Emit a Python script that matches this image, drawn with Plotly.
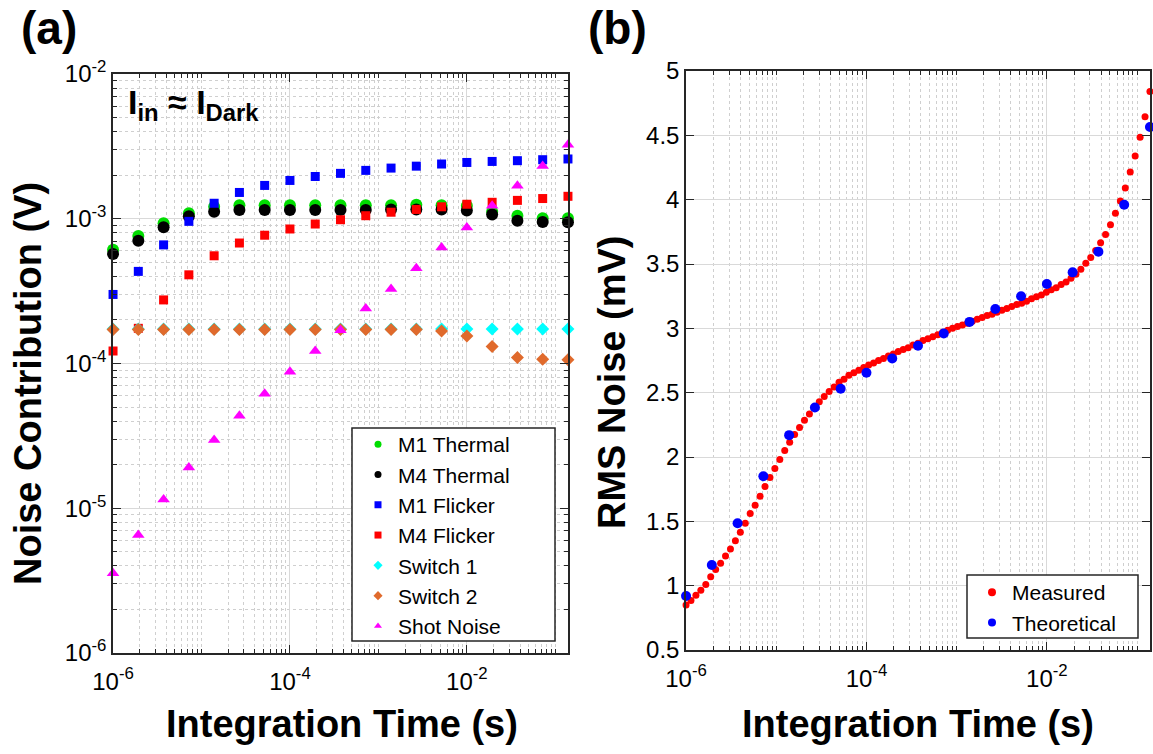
import numpy as np
import plotly.graph_objects as go

# ---------------- Panel (a): noise contributions vs integration time ----------------
t_int = [1.000e-6, 1.931e-6, 3.728e-6, 7.197e-6, 1.390e-5, 2.683e-5, 5.179e-5,
         1.000e-4, 1.931e-4, 3.728e-4, 7.197e-4, 1.390e-3, 2.683e-3, 5.179e-3,
         1.000e-2, 1.931e-2, 3.728e-2, 7.197e-2, 1.390e-1]

m1_thermal = [6.1e-4, 7.6e-4, 9.3e-4, 1.09e-3, 1.21e-3, 1.24e-3, 1.24e-3, 1.24e-3,
              1.24e-3, 1.24e-3, 1.24e-3, 1.24e-3, 1.25e-3, 1.24e-3, 1.23e-3, 1.12e-3,
              1.05e-3, 1.01e-3, 1.01e-3]
m4_thermal = [5.7e-4, 7.05e-4, 8.75e-4, 1.04e-3, 1.12e-3, 1.15e-3, 1.15e-3, 1.15e-3,
              1.15e-3, 1.15e-3, 1.15e-3, 1.16e-3, 1.16e-3, 1.16e-3, 1.14e-3, 1.07e-3,
              9.7e-4, 9.5e-4, 9.45e-4]
m1_flicker = [3.0e-4, 4.33e-4, 6.6e-4, 9.6e-4, 1.28e-3, 1.52e-3, 1.70e-3, 1.84e-3,
              1.96e-3, 2.06e-3, 2.16e-3, 2.24e-3, 2.31e-3, 2.39e-3, 2.45e-3, 2.49e-3,
              2.52e-3, 2.56e-3, 2.59e-3]
m4_flicker = [1.22e-4, 1.75e-4, 2.75e-4, 4.1e-4, 5.55e-4, 6.8e-4, 7.7e-4, 8.5e-4,
              9.2e-4, 9.85e-4, 1.05e-3, 1.11e-3, 1.16e-3, 1.21e-3, 1.26e-3, 1.30e-3,
              1.34e-3, 1.38e-3, 1.43e-3]
switch1 = [1.73e-4, 1.73e-4, 1.73e-4, 1.73e-4, 1.73e-4, 1.73e-4, 1.73e-4, 1.73e-4,
           1.73e-4, 1.73e-4, 1.73e-4, 1.73e-4, 1.73e-4, 1.73e-4, 1.73e-4, 1.73e-4,
           1.73e-4, 1.73e-4, 1.73e-4]
switch2 = [1.72e-4, 1.72e-4, 1.72e-4, 1.72e-4, 1.72e-4, 1.72e-4, 1.72e-4, 1.72e-4,
           1.72e-4, 1.72e-4, 1.72e-4, 1.72e-4, 1.72e-4, 1.68e-4, 1.55e-4, 1.31e-4,
           1.10e-4, 1.07e-4, 1.06e-4]
shot_noise = [3.56e-6, 6.53e-6, 1.15e-5, 1.91e-5, 2.96e-5, 4.36e-5, 6.19e-5, 8.78e-5,
              1.22e-4, 1.70e-4, 2.40e-4, 3.27e-4, 4.56e-4, 6.34e-4, 8.70e-4, 1.23e-3,
              1.69e-3, 2.32e-3, 3.25e-3]

# ---------------- Panel (b): total RMS noise ----------------
measured_mv = [0.85, 0.885, 0.925, 0.965, 1.01, 1.07, 1.125, 1.175, 1.23, 1.285,
               1.35, 1.415, 1.485, 1.56, 1.625, 1.695, 1.77, 1.84, 1.91, 1.98,
               2.05, 2.115, 2.175, 2.23, 2.285, 2.335, 2.385, 2.43, 2.47, 2.51,
               2.545, 2.58, 2.605, 2.635, 2.655, 2.675, 2.695, 2.715, 2.73, 2.75,
               2.765, 2.785, 2.80, 2.82, 2.835, 2.85, 2.87, 2.885, 2.905, 2.92,
               2.935, 2.95, 2.97, 2.985, 3.0, 3.015, 3.025, 3.04, 3.055, 3.07,
               3.085, 3.10, 3.11, 3.125, 3.14, 3.155, 3.17, 3.185, 3.195, 3.21,
               3.23, 3.245, 3.26, 3.28, 3.30, 3.315, 3.34, 3.36, 3.39, 3.42,
               3.46, 3.505, 3.55, 3.605, 3.665, 3.73, 3.805, 3.895, 3.99, 4.09,
               4.215, 4.34, 4.485, 4.645, 4.84]
theoretical_mv = [0.92, 1.16, 1.485, 1.85, 2.17, 2.385, 2.53, 2.655, 2.765, 2.865,
                  2.96, 3.05, 3.15, 3.25, 3.345, 3.435, 3.595, 3.96, 4.565]

# measurement sweep: log-spaced integration times over the same span
t_sweep = np.geomspace(t_int[0], t_int[-1], len(measured_mv))

x_tick_vals = [1e-6, 1e-4, 1e-2]
x_tick_text = ["10<sup>-6</sup>", "10<sup>-4</sup>", "10<sup>-2</sup>"]
y_tick_vals_a = [1e-6, 1e-5, 1e-4, 1e-3, 1e-2]
y_tick_text_a = ["10<sup>-6</sup>", "10<sup>-5</sup>", "10<sup>-4</sup>",
                 "10<sup>-3</sup>", "10<sup>-2</sup>"]
y_tick_vals_b = [0.5, 1, 1.5, 2, 2.5, 3, 3.5, 4, 4.5, 5]
y_tick_text_b = ["0.5", "1", "1.5", "2", "2.5", "3", "3.5", "4", "4.5", "5"]

FONT = "Liberation Sans, Arial, Helvetica, sans-serif"
AX_COLOR = "#262626"
GRID_MAJOR = "#d9d9d9"
GRID_MINOR = "#cfcfcf"
W, H = 1153, 754

fig = go.Figure()

series_a = [
    ("M1 Thermal", m1_thermal, "circle", "#00dd00", 12),
    ("M4 Thermal", m4_thermal, "circle", "#000000", 12),
    ("M1 Flicker", m1_flicker, "square", "#0000ff", 9),
    ("M4 Flicker", m4_flicker, "square", "#ff0000", 9),
    ("Switch 1", switch1, "diamond", "#00ffff", 10),
    ("Switch 2", switch2, "diamond", "#e06a2c", 10),
    ("Shot Noise", shot_noise, "triangle-up", "#ff00ff", 11),
]
for name, vals, sym, col, size in series_a:
    fig.add_trace(go.Scatter(
        x=t_int, y=vals, mode="markers", name=name, showlegend=False,
        marker=dict(symbol=sym, color=col, size=size, line=dict(width=0)),
        xaxis="x", yaxis="y", cliponaxis=False))
for name, vals, sym, col, size in series_a:
    fig.add_trace(go.Scatter(
        x=[None], y=[None], mode="markers", name=name, legend="legend",
        marker=dict(symbol=sym, color=col, size=7, line=dict(width=0)),
        xaxis="x", yaxis="y"))

fig.add_trace(go.Scatter(
    x=t_sweep, y=measured_mv, mode="markers", name="Measured", showlegend=False,
    marker=dict(symbol="circle", color="#ff0000", size=7, line=dict(width=0)),
    xaxis="x2", yaxis="y2", cliponaxis=False))
fig.add_trace(go.Scatter(
    x=t_int, y=theoretical_mv, mode="markers", name="Theoretical", showlegend=False,
    marker=dict(symbol="circle", color="#0000ff", size=10, line=dict(width=0)),
    xaxis="x2", yaxis="y2", cliponaxis=False))
for name, col in [("Measured", "#ff0000"), ("Theoretical", "#0000ff")]:
    fig.add_trace(go.Scatter(
        x=[None], y=[None], mode="markers", name=name, legend="legend2",
        marker=dict(symbol="circle", color=col, size=8, line=dict(width=0)),
        xaxis="x2", yaxis="y2"))


def minor_log(lo_exp, hi_exp, majors, upper):
    vals = []
    for e in range(lo_exp, hi_exp):
        for m in range(1, 10):
            v = m * 10.0 ** e
            if v <= upper * 1.0001 and all(abs(v - mj) / mj > 1e-6 for mj in majors):
                vals.append(v)
    return vals


x_minor = minor_log(-6, 0, x_tick_vals, t_int[-1])
y_minor_a = minor_log(-6, -2, y_tick_vals_a, 1e-2)

# tiny pad so the end points at the range limits are still drawn
x_range = [-6.0004, np.log10(t_int[-1]) + 0.0004]

common_axis = dict(
    showline=True, linecolor=AX_COLOR, linewidth=1.5, mirror="allticks",
    ticks="inside", ticklen=8, tickwidth=1, tickcolor=AX_COLOR,
    showgrid=True, gridcolor=GRID_MAJOR, gridwidth=1, zeroline=False,
    automargin=False,
    tickfont=dict(family=FONT, size=24, color="#000000"),
)
log_x = dict(
    type="log", range=x_range, ticklabelstandoff=6,
    tickmode="array", tickvals=x_tick_vals, ticktext=x_tick_text,
    minor=dict(tickmode="array", tickvals=x_minor, ticks="inside", ticklen=4,
               tickcolor=AX_COLOR, showgrid=True, gridcolor=GRID_MINOR,
               griddash="dot", gridwidth=1),
    **common_axis)

legend_style = dict(xanchor="left", yanchor="top", bgcolor="rgba(0,0,0,0)",
                    borderwidth=0, itemwidth=30, tracegroupgap=0,
                    font=dict(family=FONT, size=21, color="#000000"))

fig.update_layout(
    width=W, height=H,
    margin=dict(l=0, r=0, t=0, b=0, autoexpand=False),
    paper_bgcolor="white", plot_bgcolor="white",
    font=dict(family=FONT, color="#000000"),
    xaxis=dict(domain=[113 / W, 568 / W], anchor="y", **log_x),
    yaxis=dict(domain=[1 - 653 / H, 1 - 74 / H], anchor="x",
               type="log", range=[-6.0004, -1.9996],
               tickmode="array", tickvals=y_tick_vals_a, ticktext=y_tick_text_a,
               minor=dict(tickmode="array", tickvals=y_minor_a, ticks="inside",
                          ticklen=4, tickcolor=AX_COLOR, showgrid=True,
                          gridcolor=GRID_MINOR, griddash="dot", gridwidth=1),
               **common_axis),
    xaxis2=dict(domain=[686 / W, 1150 / W], anchor="y2", **log_x),
    yaxis2=dict(domain=[1 - 650 / H, 1 - 71 / H], anchor="x2",
                range=[0.5, 5], tickmode="array",
                tickvals=y_tick_vals_b, ticktext=y_tick_text_b, **common_axis),
    legend=dict(x=358 / W, y=1 - 424 / H, **legend_style),
    legend2=dict(x=972 / W, y=1 - 572 / H, **legend_style),
    showlegend=True,
)

# legend frames (white boxes behind the legend entries)
for x0, y0, x1, y1 in [(352, 428, 555, 641), (967, 575, 1138, 638)]:
    fig.add_shape(type="rect", xref="paper", yref="paper", layer="above",
                  x0=x0 / W, x1=x1 / W, y0=1 - y1 / H, y1=1 - y0 / H,
                  fillcolor="white", line=dict(color=AX_COLOR, width=1.5))

annots = [
    dict(text="<b>(a)</b>", x=49 / W, y=1 - 28 / H, size=46),
    dict(text="<b>(b)</b>", x=617 / W, y=1 - 28 / H, size=46),
    dict(text="<b>Integration Time (s)</b>", x=342 / W, y=1 - 724 / H, size=38),
    dict(text="<b>Integration Time (s)</b>", x=918 / W, y=1 - 724 / H, size=38),
    dict(text="<b>Noise Contribution (V)</b>", x=28 / W, y=1 - 384 / H,
         size=38, angle=-90),
    dict(text="<b>RMS Noise (mV)</b>", x=612 / W, y=1 - 383 / H,
         size=38, angle=-90),
]
for a in annots:
    fig.add_annotation(text=a["text"], x=a["x"], y=a["y"], xref="paper", yref="paper",
                       xanchor="center", yanchor="middle", showarrow=False,
                       textangle=a.get("angle", 0),
                       font=dict(family=FONT, size=a["size"], color="#000000"))

fig.add_annotation(text="<b>I<sub>in</sub> ≈ I<sub>Dark</sub></b>",
                   x=126 / W, y=1 - 104 / H, xref="paper", yref="paper",
                   xanchor="left", yanchor="middle", showarrow=False,
                   font=dict(family=FONT, size=34, color="#000000"))

fig.write_html("out.html")
